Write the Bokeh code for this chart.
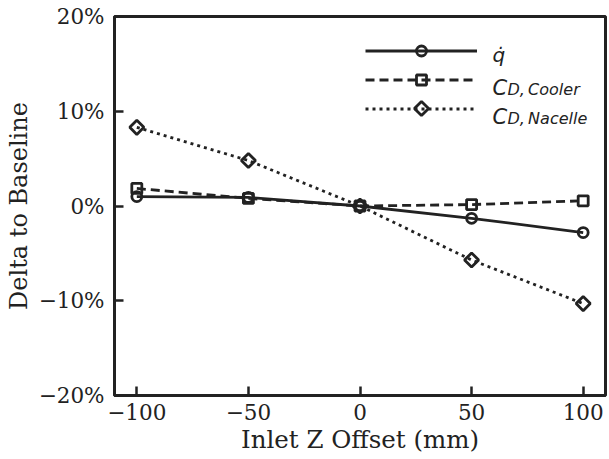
import math
from bokeh.plotting import figure
from bokeh.models import (Range1d, CustomJSTickFormatter, Legend, LegendItem,
                          Label, ColumnDataSource, FixedTicker)
from bokeh.embed import file_html
from bokeh.resources import INLINE

# Inlet Z offset sweep (mm) and change relative to baseline (%)
offset_mm = [-100, -50, 0, 50, 100]
q_dot = [1.0, 0.9, 0.0, -1.3, -2.8]
cd_cooler = [1.85, 0.8, 0.0, 0.15, 0.55]
cd_nacelle = [8.3, 4.8, 0.0, -5.7, -10.3]

x_ticks = [-100, -50, 0, 50, 100]
y_ticks = [-20, -10, 0, 10, 20]

INK = "#222222"
SERIF = "DejaVu Serif"
SANS = "DejaVu Sans"

W, H = 609, 459
LEFT, RIGHT, TOP, BOTTOM = 114, 4, 16, 64
FRAME_W = W - LEFT - RIGHT
FRAME_H = H - TOP - BOTTOM

p = figure(width=W, height=H, output_backend="svg", toolbar_location=None,
           x_range=Range1d(-110, 110), y_range=Range1d(-20, 20),
           min_border_left=LEFT, min_border_right=RIGHT, min_border_top=TOP,
           min_border_bottom=BOTTOM)

# pixel ranges over the frame, used for the legend key decoration
p.extra_x_ranges["px"] = Range1d(0, FRAME_W)
p.extra_y_ranges["px"] = Range1d(0, FRAME_H)

p.background_fill_color = "white"
p.border_fill_color = "white"
p.outline_line_color = INK
p.outline_line_width = 3
p.xgrid.visible = False
p.ygrid.visible = False

minus_fmt = "return (tick < 0 ? '\u2212' : '') + Math.abs(tick).toFixed(0)%s;"
p.xaxis.formatter = CustomJSTickFormatter(code=minus_fmt % "")
p.yaxis.formatter = CustomJSTickFormatter(code=minus_fmt % " + '%'")
p.xaxis.ticker = FixedTicker(ticks=x_ticks)
p.yaxis.ticker = FixedTicker(ticks=y_ticks)

for ax in (p.xaxis, p.yaxis):
    ax.axis_line_color = INK
    ax.axis_line_width = 3
    ax.major_tick_line_color = INK
    ax.major_tick_line_width = 2.5
    ax.major_tick_in = 9
    ax.major_tick_out = 0
    ax.minor_tick_line_color = None
    ax.major_label_text_font = SERIF
    ax.major_label_text_font_size = "21.5px"
    ax.major_label_text_color = INK
    ax.axis_label_text_font = SERIF
    ax.axis_label_text_font_style = "normal"
    ax.axis_label_text_color = INK

p.xaxis.axis_label = "Inlet Z Offset (mm)"
p.yaxis.axis_label = "Delta to Baseline"
p.xaxis.axis_label_text_font_size = "24.5px"
p.yaxis.axis_label_text_font_size = "24px"
p.xaxis.major_label_standoff = 8
p.yaxis.major_label_standoff = 10
p.xaxis.axis_label_standoff = 2
p.yaxis.axis_label_standoff = 3

src = ColumnDataSource(dict(x=offset_mm, q=q_dot, cool=cd_cooler, nac=cd_nacelle))

LW = 2.8
# column, dash, marker, size, marker rotation
series = [
    ("q", "solid", "circle", 10, 0.0),
    ("cool", "9 5", "square", 10, 0.0),
    ("nac", "3 4", "square", 10, math.pi / 4),
]
items = []
for i, (col, dash, marker, size, ang) in enumerate(series):
    ln = p.line("x", col, source=src, line_color=INK, line_width=LW,
                line_dash=dash)
    sc = p.scatter("x", col, source=src, marker=marker, size=size, angle=ang,
                   line_color=INK, line_width=LW, fill_alpha=0)
    # the legend key can't rotate markers, so the diamond key is added below
    rends = [ln, sc] if ang == 0 else [ln]
    items.append(LegendItem(label=" " * (i + 1), renderers=rends))

# legend block: rows centred at canvas y = 50, 79, 108; keys from x = 365
KEY_X0, KEY_W, ROW_H, ROW_GAP, FIRST_ROW_Y = 365, 112, 25, 4, 50
legend_top = FIRST_ROW_Y - ROW_H / 2
legend_h = 3 * ROW_H + 2 * ROW_GAP
legend = Legend(items=items,
                location=(KEY_X0 - LEFT, FRAME_H - (legend_top - TOP) - legend_h),
                orientation="vertical",
                glyph_width=KEY_W, glyph_height=ROW_H, label_height=ROW_H,
                label_width=0, label_standoff=0, spacing=ROW_GAP, padding=0,
                margin=0, border_line_alpha=0, background_fill_alpha=0,
                label_text_font_size="2px")
p.add_layout(legend, "center")

row3_y = FIRST_ROW_Y + 2 * (ROW_H + ROW_GAP)
p.scatter(x=[KEY_X0 - LEFT + KEY_W / 2], y=[FRAME_H - (row3_y - TOP)],
          x_range_name="px", y_range_name="px", marker="square", size=10,
          angle=math.pi / 4, line_color=INK, line_width=LW, fill_color="white")

# legend texts with math-style subscripts (frame coordinates, y upward)
def add_text(txt, x, y, size):
    p.add_layout(Label(x=x - LEFT, y=FRAME_H - (y - TOP), x_units="screen",
                       y_units="screen", text=txt, text_font=SANS,
                       text_font_style="italic", text_font_size=size,
                       text_color=INK, text_baseline="alphabetic",
                       text_align="left"))

add_text("q\u0307", 492, 54, "20px")
add_text("C", 492, 87, "21px")
add_text("D,\u2009Cooler", 507, 89, "16px")
add_text("C", 492, 116, "21px")
add_text("D,\u2009Nacelle", 507, 118, "16px")

open("out.html", "w").write(file_html(p, INLINE))
